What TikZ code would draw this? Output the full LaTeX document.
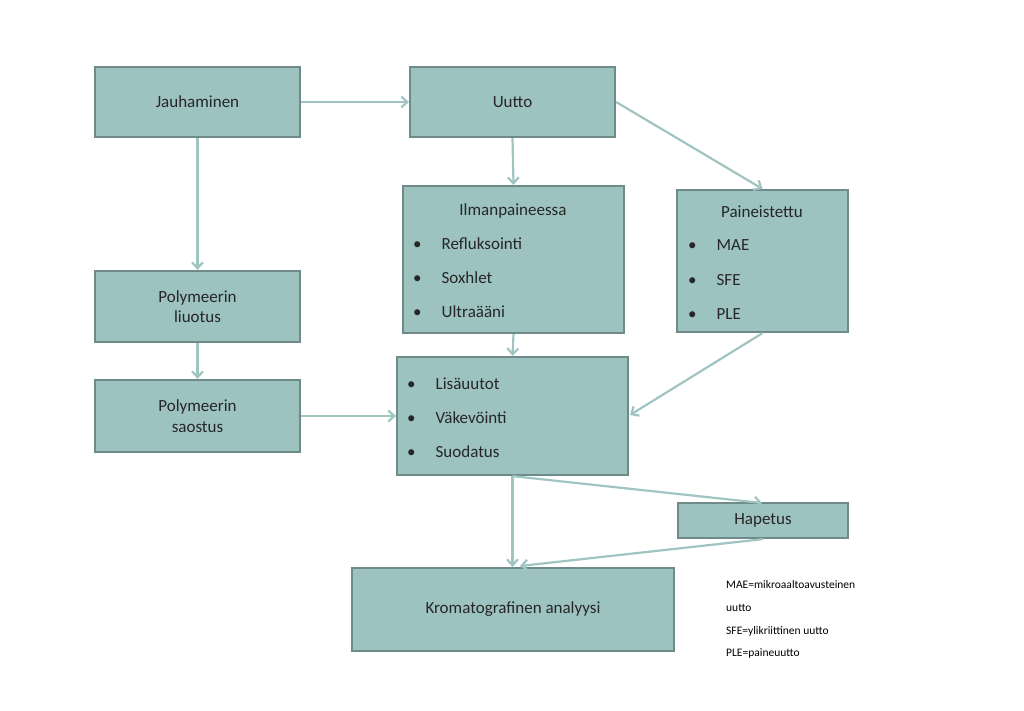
\documentclass[tikz,border=0pt]{standalone}
\usepackage{fontspec}
\setmainfont{Carlito}
\usetikzlibrary{arrows.meta}
\definecolor{boxfill}{HTML}{9DC3C1}
\definecolor{boxline}{HTML}{6E8A89}
\definecolor{arr}{HTML}{A0C4C2}
\begin{document}
\begin{tikzpicture}[x=1pt,y=-1pt,
  box/.style={draw=boxline,line width=2.2pt,fill=boxfill,inner sep=0pt},
  txt/.style={inner sep=0pt,font=\fontsize{17}{20.5}\selectfont,text=black!85},
  note/.style={inner sep=0pt,anchor=west,font=\fontsize{11.5}{14}\selectfont},
  con/.style={draw=arr,line width=2.2pt,-{Straight Barb[length=6pt,width=11pt]}}]
\useasboundingbox (0,0) rectangle (1024,710);
\node[box,minimum width=205pt,minimum height=70pt] (ja) at (197.5,102) {};
\node[box,minimum width=205pt,minimum height=70pt] (uu) at (512.5,102) {};
\node[box,minimum width=221pt,minimum height=147pt] (il) at (513.5,259.5) {};
\node[box,minimum width=171pt,minimum height=142pt] (pa) at (762.5,261) {};
\node[box,minimum width=205pt,minimum height=71pt] (li) at (197.5,306.5) {};
\node[box,minimum width=205pt,minimum height=72pt] (sa) at (197.5,416) {};
\node[box,minimum width=231pt,minimum height=118pt] (lu) at (512.5,416) {};
\node[box,minimum width=170pt,minimum height=35pt] (ha) at (763,520.5) {};
\node[box,minimum width=322pt,minimum height=83pt] (kr) at (513,609.5) {};
\node[txt] (tja) at (ja) {Jauhaminen};
\node[txt] (tuu) at (uu) {Uutto};
\node[txt,align=center] (tli) at (li) {Polymeerin\\liuotus};
\node[txt,align=center] (tsa) at (sa) {Polymeerin\\saostus};
\node[txt] (tha) at (ha) {Hapetus};
\node[txt] (tkr) at (kr) {Kromatografinen analyysi};
\node[txt] (til) at (513,211) {Ilmanpaineessa};
\node[txt,anchor=west] (b1) at (413,244) {•\hspace{20pt}Refluksointi};
\node[txt,anchor=west] (b2) at (413,278) {•\hspace{20pt}Soxhlet};
\node[txt,anchor=west] (b3) at (413,312) {•\hspace{20pt}Ultraääni};
\node[txt] (tpa) at (762,212) {Paineistettu};
\node[txt,anchor=west] (c1) at (688,245) {•\hspace{20pt}MAE};
\node[txt,anchor=west] (c2) at (688,280) {•\hspace{20pt}SFE};
\node[txt,anchor=west] (c3) at (688,314) {•\hspace{20pt}PLE};
\node[txt,anchor=west] (d1) at (407,384) {•\hspace{20pt}Lisäuutot};
\node[txt,anchor=west] (d2) at (407,418) {•\hspace{20pt}Väkevöinti};
\node[txt,anchor=west] (d3) at (407,452) {•\hspace{20pt}Suodatus};
\node[note] (n1) at (726,585) {MAE=mikroaaltoavusteinen};
\node[note] (n2) at (726,608) {uutto};
\node[note] (n3) at (726,631) {SFE=ylikriittinen uutto};
\node[note] (n4) at (726,653) {PLE=paineuutto};
\coordinate (a1) at (762,503);
\coordinate (a2) at (520,566);
\coordinate (a3) at (630,415);
\draw[con] (ja.east) -- (uu.west);
\draw[con] (ja.south) -- (li.north);
\draw[con] (uu.south) -- (il.north);
\draw[con] (uu.east) -- (pa.north);
\draw[con] (li.south) -- (sa.north);
\draw[con] (il.south) -- (lu.north);
\draw[con] (pa.south) -- (a3);
\draw[con] (sa.east) -- (sa.east -| lu.west);
\draw[con] (lu.south) -- (kr.north -| lu.south);
\draw[con] (lu.south) -- (a1);
\draw[con] (ha.south) -- (a2);
\end{tikzpicture}
\end{document}
